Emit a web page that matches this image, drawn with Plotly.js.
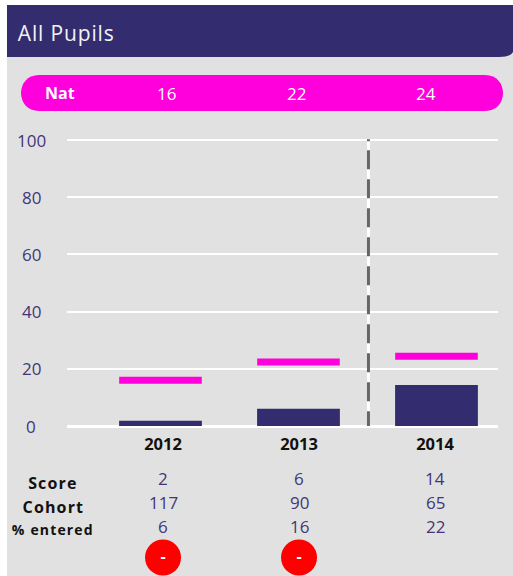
<!DOCTYPE html>
<html><head><meta charset="utf-8">
<script src="https://cdn.plot.ly/plotly-3.0.1.min.js"></script>
<style>html,body{margin:0;padding:0;background:#fff}#c{width:513px;height:576px}</style>
</head><body><div id="c"></div>
<script>
const years = ['2012','2013','2014'];
const barValues = [1.8, 6, 14.3];
const natMarks = [16, 22.4, 24.4];
const natLabels = ['16','22','24'];
const scores = ['2','6','14'];
const cohort = ['117','90','65'];
const entered = ['6','16','22'];
const flags = ['-','-',null];
const yTicks = [0,20,40,60,80,100];
const rowNames = ['Score','Cohort','% entered'];

const W=513,H=576;
const NAVY='#332c6e', PINK='#ff00dc', TXT='#3f3779', F='"Open Sans", sans-serif';
const m={l:67,r:15,t:0,b:0};
const px=x=>(x-m.l)/(W-m.l-m.r);
const py=y=>1-y/H;
const xr=[-0.6775,2.4457];          // main category axis
const xr2=[-0.706,2.463];           // table / label axis
const yPx=v=>426-v*2.86;
const yTopPx=136, yTopVal=(426-yTopPx)/2.86;

function P(x,y){return px(x)+','+py(y);}
const shapes=[
 {type:'rect',xref:'paper',yref:'paper',x0:px(7),x1:px(513),y0:py(5),y1:py(576),fillcolor:'#e1e1e1',line:{width:0},layer:'below'},
 {type:'path',xref:'paper',yref:'paper',layer:'below',fillcolor:NAVY,line:{width:0},
  path:'M'+P(7,5)+' L'+P(513,5)+' L'+P(513,52)+' Q'+P(511,57)+' '+P(499,57)+' L'+P(7,57)+' Z'},
 {type:'path',xref:'paper',yref:'paper',layer:'below',fillcolor:PINK,line:{width:0},
  path:'M'+P(39,75)+' L'+P(485,75)+' C'+P(509,75)+' '+P(509,111)+' '+P(485,111)+' L'+P(39,111)+' C'+P(15,111)+' '+P(15,75)+' '+P(39,75)+' Z'},
 {type:'line',xref:'x',yref:'y',x0:1.507,x1:1.507,y0:100,y1:0,line:{color:'#fff',width:3},layer:'above'},
 {type:'line',xref:'x',yref:'y',x0:1.507,x1:1.507,y0:100.3,y1:0,layer:'above',
  line:{color:'#666',width:3,dash:'2px,9px,'+Array(10).fill('19px,10px').join(',')}}
];

const ann=[];
function t(text,x,y,size,color,opts){ann.push(Object.assign({text:text,x:x,y:y,xref:'paper',yref:'paper',xanchor:'center',yanchor:'middle',showarrow:false,font:{family:F,size:size,color:color}},opts||{}));}
t('All Pupils',px(20),py(33),21,'#f2f2f2',{xanchor:'left'});
t('<b>Nat</b>',px(60),py(92.5),16,'#fff');
natLabels.forEach((v,i)=>t(v,px(166+130*i),py(94),17,'#fff'));
yTicks.forEach(v=>t(String(v),px(31),py(yPx(v)),17,TXT));
[scores,cohort,entered].forEach((row,r)=>row.forEach((v,i)=>
  t(v,i,py(478+24*r),17,TXT,{xref:'x2'})));
t('<b>Score</b>',px(53),py(483),16,'#111');
t('<b>Cohort</b>',px(53),py(507),16,'#111');
t('<b>% entered</b>',px(53),py(529),14,'#111');

const flagYears=years.filter((_,i)=>flags[i]);
const flagText=flags.filter(Boolean);

const data=[
 {type:'bar',x:years,y:barValues,width:0.6,marker:{color:NAVY,line:{width:0}},hoverinfo:'skip'},
 {type:'scatter',mode:'markers',x:years,y:natMarks,hoverinfo:'skip',
  marker:{symbol:'line-ew',size:59,color:PINK,line:{color:PINK,width:7}}},
 {type:'scatter',mode:'markers',xaxis:'x2',x:years,y:years.map(()=>null),hoverinfo:'skip',marker:{opacity:0}},
 {type:'scatter',mode:'markers+text',xaxis:'x3',yaxis:'y2',x:flagYears,y:flagYears.map(()=>0.5),text:flagText,cliponaxis:false,hoverinfo:'skip',
  textposition:'middle center',textfont:{family:F,size:16,color:'#fff',weight:700},
  marker:{size:36,color:'#ff0000',line:{width:0}}}
];
const cat={type:'category',categoryorder:'array',categoryarray:years,fixedrange:true};
const layout={
 width:W,height:H,margin:m,showlegend:false,paper_bgcolor:'#fff',plot_bgcolor:'rgba(0,0,0,0)',
 font:{family:F},bargap:0.4,shapes:shapes,annotations:ann,
 xaxis:Object.assign({},cat,{range:xr,visible:false,anchor:'y'}),
 xaxis2:Object.assign({},cat,{overlaying:'x',anchor:'y',side:'bottom',range:xr2,
  showgrid:false,zeroline:false,showline:false,ticks:'outside',ticklen:3,tickcolor:'rgba(0,0,0,0)',ticklabelstandoff:0,
  tickfont:{family:F,size:16.5,color:'#111',weight:700}}),
 xaxis3:Object.assign({},cat,{range:xr2,visible:false,anchor:'y2'}),
 yaxis:{domain:[py(426),py(yTopPx)],range:[0,yTopVal],anchor:'x',tickvals:yTicks,showticklabels:false,showgrid:true,gridcolor:'#fff',gridwidth:2,
  zeroline:true,zerolinecolor:'#fff',zerolinewidth:3,showline:false,ticks:'',fixedrange:true},
 yaxis2:{domain:[py(575.5),py(539.5)],range:[0,1],anchor:'x3',visible:false,fixedrange:true}
};
Plotly.newPlot('c',data,layout,{displayModeBar:false,staticPlot:true}).then(()=>{
 document.querySelectorAll('#c .annotation-text').forEach(el=>{
  const s=el.textContent;
  if(s==='All Pupils') el.style.letterSpacing='0.85px';
  if(rowNames.includes(s)) el.style.letterSpacing='1.15px';
 });
});
</script></body></html>
